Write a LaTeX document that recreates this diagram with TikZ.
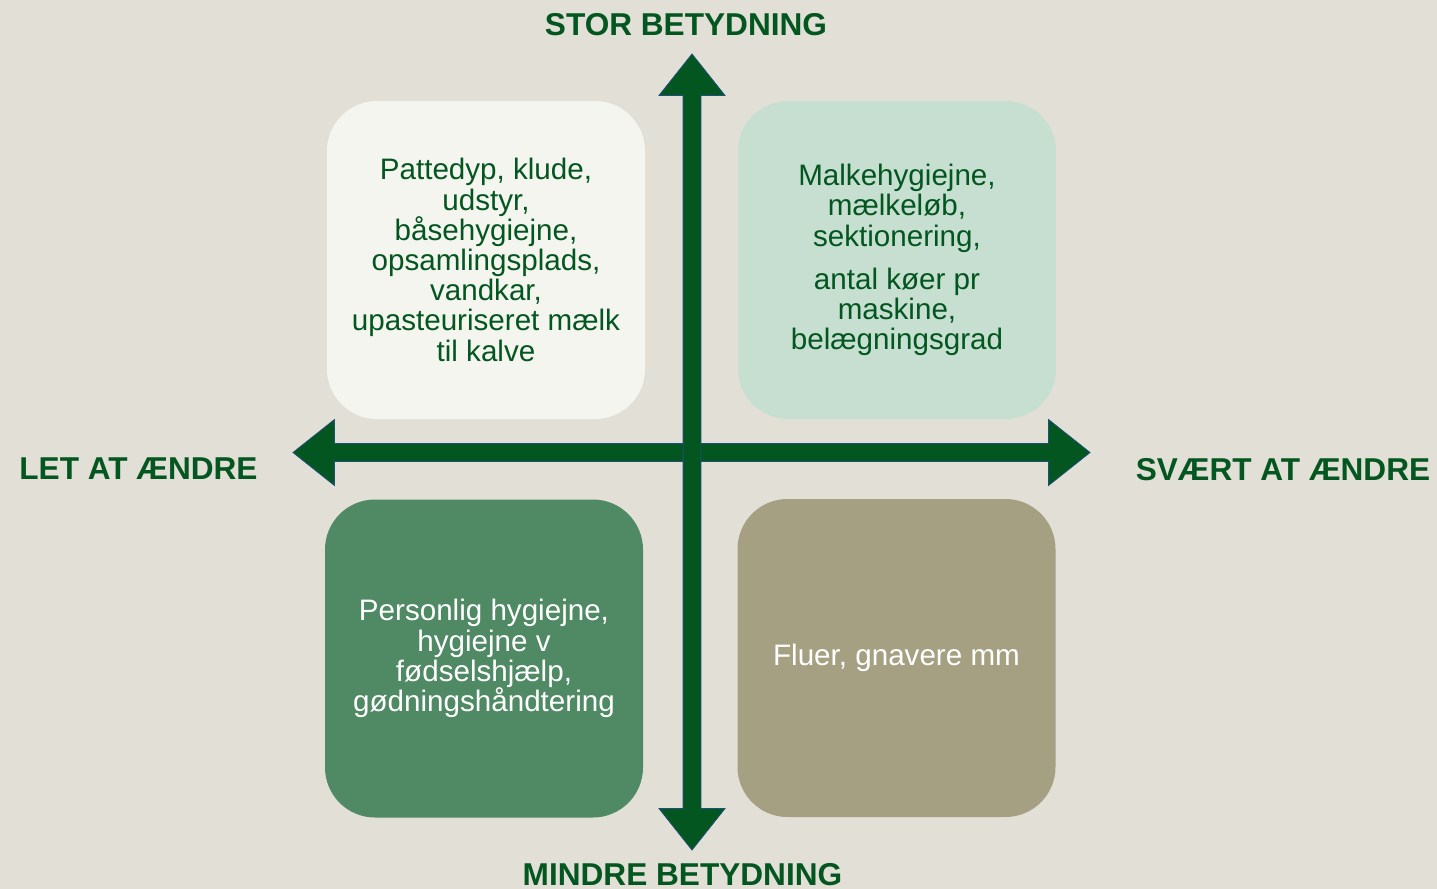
\documentclass[tikz,border=0pt]{standalone}
\usepackage{fontspec}
\setmainfont{Liberation Sans}
\usetikzlibrary{shapes.arrows}
\definecolor{bgc}{HTML}{E2DFD7}
\definecolor{dkgreen}{HTML}{03561F}
\definecolor{edgeblue}{HTML}{1F4E79}
\definecolor{boxa}{HTML}{F5F5F0}
\definecolor{boxb}{HTML}{C6DFD1}
\definecolor{boxc}{HTML}{4F8A65}
\definecolor{boxd}{HTML}{A5A082}
\begin{document}
\begin{tikzpicture}[x=0.5pt,y=-0.5pt,
  quad/.style={rounded corners=25pt, minimum width=159pt, minimum height=159pt, inner sep=0pt, align=center, font=\fontsize{14.8}{15.1}\selectfont},
  axis/.style={double arrow, fill=dkgreen, draw=edgeblue, line width=0.4pt, inner sep=4.25pt, double arrow head extend=12pt, double arrow tip angle=77, double arrow head indent=0pt},
  lbl/.style={text=dkgreen, font=\fontsize{15.8}{17}\selectfont\bfseries, inner sep=0pt}]
\fill[bgc] (0,0) rectangle (1437,889);
\useasboundingbox (0,0) rectangle (1437,889);
\node[quad, fill=boxa, text=dkgreen] (tl) at (486,260){Pattedyp, klude,\\udstyr,\\båsehygiejne,\\opsamlingsplads,\\vandkar,\\upasteuriseret mælk\\til kalve};
\node[quad, fill=boxb, text=dkgreen] (tr) at (897,260){Malkehygiejne,\\mælkeløb,\\sektionering,\\[6.5pt]antal køer pr\\maskine,\\belægningsgrad};
\node[quad, fill=boxc, text=white] (bl) at (484,658.5){Personlig hygiejne,\\hygiejne v\\fødselshjælp,\\gødningshåndtering};
\node[quad, fill=boxd, text=white] (br) at (896.5,658){Fluer, gnavere mm};
\node[axis, minimum height=398.5pt] (haxis) at (691.5,452.5){};
\node[axis, minimum height=398pt, rotate=90] (vaxis) at (692,452){};
\node[lbl] (top) at (686,25){STOR BETYDNING};
\node[lbl] (bottom) at (682.5,874.5){MINDRE BETYDNING};
\node[lbl] (left) at (138.5,469){LET AT ÆNDRE};
\node[lbl] (right) at (1283,469.5){SVÆRT AT ÆNDRE};
\end{tikzpicture}
\end{document}
